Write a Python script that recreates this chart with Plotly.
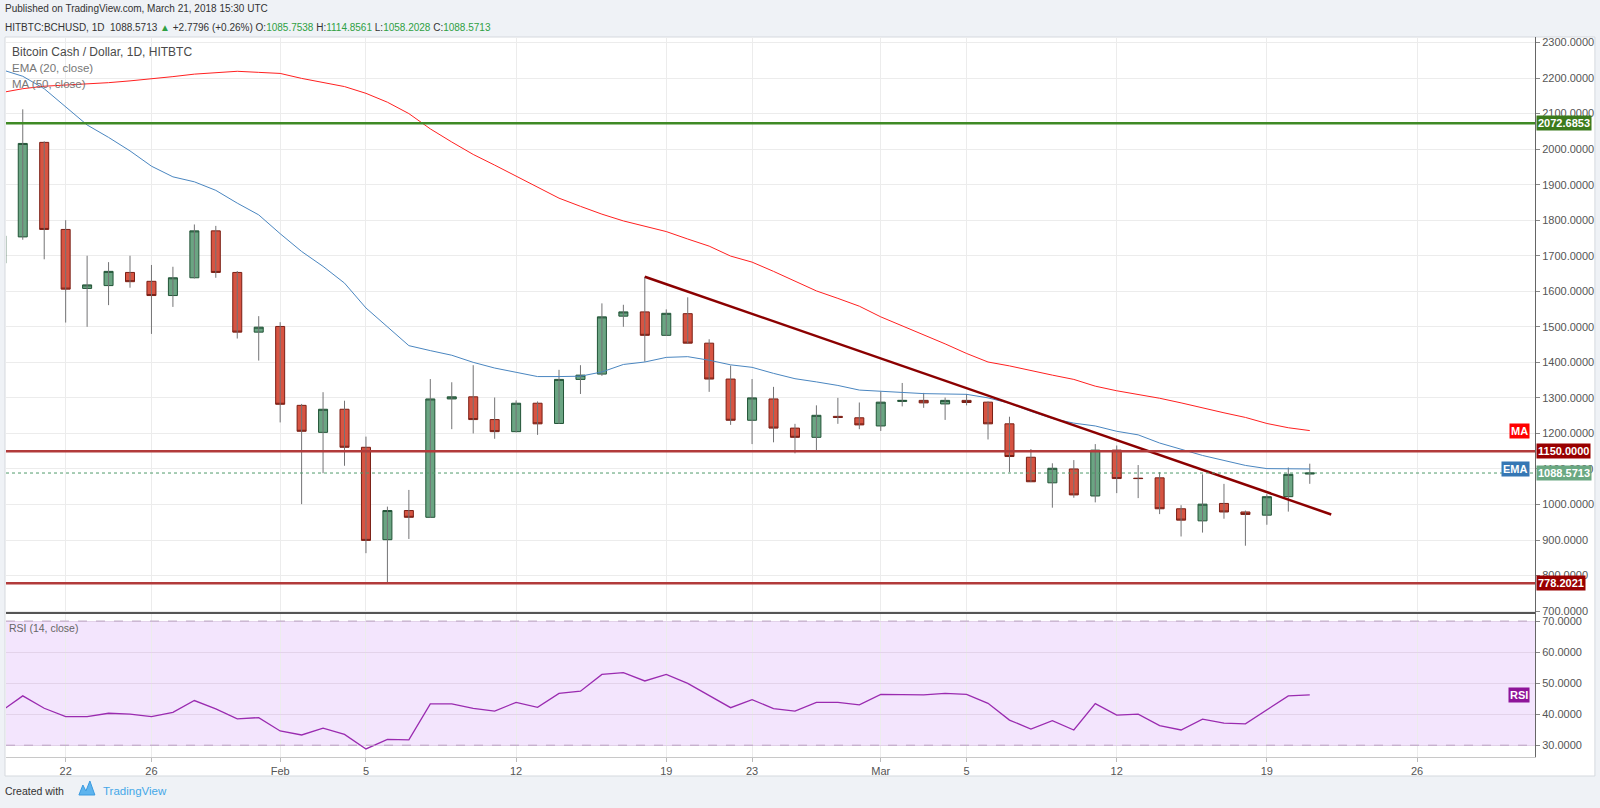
import pandas as pd
import plotly.graph_objects as go

# daily candles, HITBTC BCHUSD, 19 Jan - 21 Mar 2018
dates = pd.date_range("2018-01-19", "2018-03-21", freq="D")

opens = [1679, 1753, 2019, 1774, 1608, 1616, 1653, 1628, 1588, 1638,
         1770, 1653, 1485, 1501, 1279, 1203, 1268, 1161, 901, 983,
         964, 1297, 1303, 1239, 1205, 1285, 1228, 1352, 1367, 1530,
         1542, 1476, 1537, 1454, 1353, 1237, 1297, 1215, 1189, 1248,
         1244, 1221, 1290, 1293, 1283, 1293, 1288, 1227, 1133, 1061,
         1100, 1024, 1153, 1074, 1075, 988, 954, 1003, 979, 970,
         1022, 1085.7538]
highs = [1790, 2112, 2022, 1800, 1700, 1682, 1700, 1674, 1669, 1788,
         1784, 1657, 1530, 1513, 1283, 1316, 1292, 1191, 994, 1041,
         1353, 1344, 1392, 1301, 1293, 1290, 1379, 1392, 1566, 1562,
         1641, 1549, 1583, 1465, 1391, 1353, 1331, 1227, 1279, 1300,
         1287, 1318, 1342, 1314, 1301, 1311, 1290, 1247, 1156, 1116,
         1125, 1170, 1166, 1111, 1091, 998, 1085, 1058, 983, 1029,
         1104, 1114.8561]
lows = [1660, 1745, 1690, 1512, 1500, 1561, 1610, 1480, 1556, 1636,
        1638, 1467, 1405, 1231, 1001, 1088, 1109, 863, 778, 903,
        962, 1212, 1200, 1185, 1203, 1196, 1227, 1311, 1362, 1500,
        1402, 1474, 1452, 1317, 1224, 1170, 1175, 1144, 1150, 1227,
        1212, 1207, 1276, 1272, 1238, 1279, 1183, 1091, 1063, 991,
        1019, 1006, 1032, 1018, 973, 910, 921, 960, 884, 943,
        980, 1058.2028]
closes = [1756, 2016, 1774, 1606, 1618, 1656, 1627, 1588, 1638, 1770,
          1653, 1485, 1499, 1282, 1206, 1268, 1161, 899, 983, 964,
          1297, 1303, 1239, 1205, 1285, 1227, 1352, 1364, 1528, 1542,
          1476, 1538, 1454, 1353, 1237, 1300, 1215, 1189, 1251, 1245,
          1224, 1288, 1293, 1286, 1293, 1287, 1227, 1135, 1064, 1102,
          1027, 1153, 1073, 1073, 988, 956, 1001, 979, 972, 1022,
          1085, 1088.5713]

ema20 = [2224, 2205, 2170, 2120, 2068, 2033, 1995, 1952, 1922, 1908,
         1884, 1848, 1815, 1762, 1712, 1670, 1623, 1553, 1499, 1447,
         1433, 1420, 1400, 1384, 1372, 1360, 1360, 1361, 1373, 1394,
         1401, 1414, 1416, 1406, 1393, 1386, 1369, 1354, 1345, 1335,
         1322, 1318, 1315, 1312, 1311, 1310, 1300, 1285, 1262, 1242,
         1229, 1221, 1206, 1196, 1173, 1155, 1138, 1124, 1110, 1101,
         1100, 1100]
ma50 = [2159, 2170, 2177, 2180, 2183, 2187, 2192, 2197, 2204, 2211,
        2216, 2219, 2216, 2213, 2199, 2187, 2176, 2157, 2132, 2100,
        2057, 2020, 1985, 1955, 1924, 1893, 1862, 1839, 1817, 1798,
        1783, 1768, 1747, 1727, 1699, 1682, 1656, 1628, 1601, 1580,
        1558, 1528, 1503, 1477, 1452, 1425, 1401, 1390, 1376, 1364,
        1352, 1333, 1320, 1310, 1299, 1286, 1271, 1258, 1245, 1228,
        1216, 1208]
rsi14 = [41.0, 45.9, 41.9, 39.2, 39.2, 40.3, 40.0, 39.2, 40.6, 44.4,
         41.7, 38.5, 38.9, 34.6, 33.3, 35.5, 33.5, 28.8, 31.9, 31.7,
         43.3, 43.3, 41.9, 41.0, 43.8, 42.2, 46.7, 47.4, 52.8, 53.4,
         50.7, 52.8, 49.9, 46.0, 42.1, 44.7, 41.8, 41.0, 43.8, 43.8,
         43.0, 46.4, 46.4, 46.2, 46.7, 46.4, 43.5, 38.1, 35.2, 37.9,
         34.9, 43.4, 39.7, 40.0, 36.3, 34.9, 38.4, 37.1, 36.9, 41.4,
         45.9, 46.2]

# drawings on the chart
levels = [2072.6853, 1150.0, 778.2021]
level_colors = ["#3f8a25", "#b23b3b", "#b23b3b"]
level_label_bg = ["#3b7a1c", "#990000", "#990000"]
last_price = 1088.5713
trend_dates = ["2018-02-18", "2018-03-22"]
trend_values = [1641, 972]

tick_dates = ["2018-01-22", "2018-01-26", "2018-02-01", "2018-02-05", "2018-02-12",
              "2018-02-19", "2018-02-23", "2018-03-01", "2018-03-05", "2018-03-12",
              "2018-03-19", "2018-03-26"]
tick_text = ["22", "26", "Feb", "5", "12", "19", "23", "Mar", "5", "12", "19", "26"]

# pixel helpers (plot area: x 6..1537, y 37..757)
def xp(px):
    return (px - 6) / 1531

def yp(py):
    return (757 - py) / 720

SANS = "Liberation Sans, Arial"
AXIS_FONT = dict(family=SANS, size=11, color="#555")

fig = go.Figure()

# wicks drawn separately so they stay grey
wx, wy = [], []
for d, lo, hi in zip(dates, lows, highs):
    wx += [d, d, None]
    wy += [lo, hi, None]
fig.add_trace(go.Scatter(x=wx, y=wy, mode="lines", line=dict(color="#737375", width=1),
                         hoverinfo="skip", showlegend=False))

body_hi = [max(o, c) for o, c in zip(opens, closes)]
body_lo = [min(o, c) for o, c in zip(opens, closes)]
fig.add_trace(go.Candlestick(
    x=dates, open=opens, high=body_hi, low=body_lo, close=closes,
    increasing=dict(fillcolor="#6ba583", line=dict(color="#225437", width=1)),
    decreasing=dict(fillcolor="#d75442", line=dict(color="#7a1f15", width=1)),
    whiskerwidth=0, showlegend=False))

fig.add_trace(go.Scatter(x=dates, y=ema20, mode="lines",
                         line=dict(color="#4a86c0", width=1), showlegend=False))
fig.add_trace(go.Scatter(x=dates, y=ma50, mode="lines",
                         line=dict(color="#ff2020", width=1), showlegend=False))
fig.add_trace(go.Scatter(x=trend_dates, y=trend_values, mode="lines",
                         line=dict(color="#8b0000", width=2.5), showlegend=False))

fig.add_trace(go.Scatter(x=dates, y=rsi14, mode="lines", yaxis="y2",
                         line=dict(color="#9a2bb0", width=1.3), showlegend=False))

shapes = [
    # white chart card
    dict(type="rect", xref="paper", yref="paper", x0=xp(5), x1=xp(1597), y0=yp(776), y1=yp(37),
         fillcolor="white", line=dict(color="#d5d9de", width=1), layer="below"),
    # RSI band
    dict(type="rect", xref="paper", yref="y2", x0=0, x1=1, y0=30, y1=70,
         fillcolor="#f3e5fd", line=dict(width=0), layer="below"),
    dict(type="line", xref="paper", yref="y2", x0=0, x1=1, y0=70, y1=70,
         line=dict(color="#bba4c2", width=1, dash="dash")),
    dict(type="line", xref="paper", yref="y2", x0=0, x1=1, y0=30, y1=30,
         line=dict(color="#bba4c2", width=1, dash="dash")),
    # pane separator
    dict(type="line", xref="paper", yref="paper", x0=0, x1=1, y0=yp(613), y1=yp(613),
         line=dict(color="#555", width=2)),
    # current price
    dict(type="line", xref="paper", yref="y", x0=0, x1=1, y0=last_price, y1=last_price,
         line=dict(color="#4f9a6a", width=1, dash="dot")),
]
for lv, col in zip(levels, level_colors):
    shapes.append(dict(type="line", xref="paper", yref="y", x0=0, x1=1, y0=lv, y1=lv,
                       line=dict(color=col, width=2.5)))

annotations = []

def label_box(y, text, bg, yref="y", anchor="left"):
    annotations.append(dict(
        xref="paper", yref=yref, x=1, y=y, xanchor=anchor, yanchor="middle",
        xshift=1 if anchor == "left" else -5,
        text="<b>%s</b>" % text, showarrow=False, bgcolor=bg, borderpad=1,
        font=dict(family=SANS, size=11, color="white")))

for lv, bg in zip(levels, level_label_bg):
    label_box(lv, "%.4f" % lv, bg)
label_box(last_price, "%.4f" % last_price, "#6aa882")
label_box(ma50[-1], "MA", "#ff0000", anchor="right")
label_box(ema20[-1], "EMA", "#3677b4", anchor="right")
label_box(rsi14[-1], "RSI", "#8e1599", yref="y2", anchor="right")

def text(x, y, s, size=11, color="#333"):
    annotations.append(dict(xref="paper", yref="paper", x=xp(x), y=yp(y),
                            xanchor="left", yanchor="middle", text=s, showarrow=False,
                            font=dict(family=SANS, size=size, color=color)))

G = "#2ea043"
text(3, 9, "Published on TradingView.com, March 21, 2018 15:30 UTC", 10)
text(3, 27, "HITBTC:BCHUSD, 1D&nbsp; 1088.5713 <span style='color:%s'>▲</span> +2.7796 (+0.26%%) "
     "O:<span style='color:%s'>1085.7538</span> H:<span style='color:%s'>1114.8561</span> "
     "L:<span style='color:%s'>1058.2028</span> C:<span style='color:%s'>1088.5713</span>" % (G, G, G, G, G), 10)
text(10, 52, "Bitcoin Cash / Dollar, 1D, HITBTC", 12, "#4a4a4a")
text(10, 68, "EMA (20, close)", 11.5, "#777")
text(10, 84, "MA (50, close)", 11.5, "#777")
text(7, 628, "RSI (14, close)", 10.5, "#666")
text(3, 791, "Created with", 10.5, "#333")
text(101, 791, "TradingView", 11.5, "#45a8e8")

# little logo next to the footer
logo = [(79, 795), (83, 785), (86, 791), (90, 781), (95, 795)]
path = "M " + " L ".join("%f,%f" % (xp(a), yp(b)) for a, b in logo) + " Z"
shapes.append(dict(type="path", xref="paper", yref="paper", path=path,
                   fillcolor="#5db4ee", line=dict(color="#3b9be0", width=1)))

fig.update_layout(
    width=1600, height=808,
    margin=dict(l=6, r=63, t=37, b=51),
    paper_bgcolor="#eff2f6", plot_bgcolor="white",
    boxgap=0.4,
    showlegend=False,
    shapes=shapes, annotations=annotations,
    xaxis=dict(type="date", range=["2018-01-19 05:15", "2018-03-31 12:00"],
               tickvals=tick_dates, ticktext=tick_text, tickfont=AXIS_FONT,
               anchor="y2", showgrid=True, gridcolor="#ececec",
               ticks="outside", ticklen=4, tickcolor="#bbb",
               showline=True, linecolor="#c8c8c8", rangeslider=dict(visible=False),
               zeroline=False),
    yaxis=dict(domain=[0.2, 1], range=[694.7, 2315.5], side="right", dtick=100, tick0=0,
               tickformat=".4f", tickfont=AXIS_FONT, showgrid=True, gridcolor="#ececec",
               ticks="outside", ticklen=4, tickcolor="#888",
               showline=True, linecolor="#666", zeroline=False),
    yaxis2=dict(domain=[0, 0.2], range=[26.2, 72.6], side="right",
                tickvals=[30, 40, 50, 60, 70], tickformat=".4f", tickfont=AXIS_FONT,
                showgrid=True, gridcolor="#e3d3ea", ticks="outside", ticklen=4,
                tickcolor="#888", showline=True, linecolor="#666", zeroline=False),
)

# the page's default body margin would push the figure 8px off; drop it
fig.write_html("out.html", config={"displayModeBar": False},
               post_script="document.body.style.margin='0';document.body.style.overflow='hidden';")
